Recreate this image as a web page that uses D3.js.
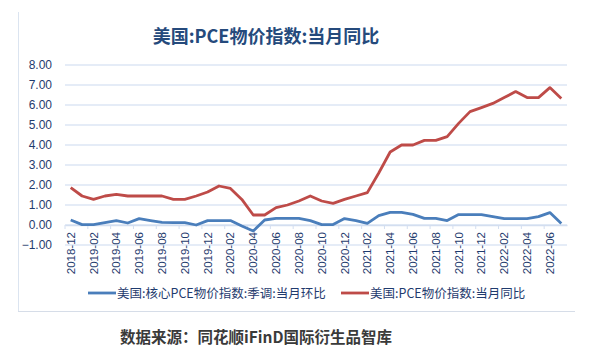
<!DOCTYPE html>
<html><head><meta charset="utf-8">
<script src="https://cdn.jsdelivr.net/npm/d3@7"></script>
<style>body{margin:0;background:#fff}svg{display:block}</style>
</head><body><svg id="c" width="591" height="359"></svg>
<script>
const months = ["2018-12","2019-01","2019-02","2019-03","2019-04","2019-05","2019-06","2019-07","2019-08","2019-09","2019-10","2019-11","2019-12","2020-01","2020-02","2020-03","2020-04","2020-05","2020-06","2020-07","2020-08","2020-09","2020-10","2020-11","2020-12","2021-01","2021-02","2021-03","2021-04","2021-05","2021-06","2021-07","2021-08","2021-09","2021-10","2021-11","2021-12","2022-01","2022-02","2022-03","2022-04","2022-05","2022-06","2022-07"];
const coreMoM = [0.25,0.02,0.02,0.12,0.22,0.1,0.32,0.22,0.13,0.12,0.12,0.0,0.22,0.22,0.22,-0.05,-0.3,0.25,0.33,0.33,0.33,0.22,0.02,0.02,0.32,0.22,0.08,0.47,0.63,0.63,0.53,0.33,0.33,0.22,0.52,0.52,0.52,0.42,0.32,0.32,0.32,0.42,0.62,0.08];
const pceYoY = [1.87,1.45,1.28,1.45,1.53,1.45,1.45,1.45,1.45,1.28,1.28,1.45,1.65,1.95,1.83,1.28,0.5,0.5,0.87,1.0,1.2,1.45,1.2,1.08,1.28,1.45,1.62,2.6,3.65,4.0,4.0,4.23,4.23,4.42,5.08,5.67,5.87,6.08,6.37,6.67,6.37,6.37,6.87,6.33];
const yTicks = [-1,0,1,2,3,4,5,6,7,8];
const seriesNames = ["美国:核心PCE物价指数:季调:当月环比","美国:PCE物价指数:当月同比"];
const title = "美国:PCE物价指数:当月同比";
const source = "数据来源：同花顺iFinD国际衍生品智库";

const svg = d3.select("#c");
const L=65,R=567,T=65,B=245;
const x = d3.scaleBand().domain(months).range([L,R]);
const y = d3.scaleLinear().domain([-1,8]).range([B,T]);
const cjk = "'Noto Sans CJK SC','Noto Sans',sans-serif";
const lat = "'Liberation Sans',Arial,sans-serif";

// frame
svg.append("line").attr("x1",18.5).attr("x2",18.5).attr("y1",12).attr("y2",311).attr("stroke","#dbe4f0").attr("stroke-width",1);
svg.append("line").attr("x1",18).attr("x2",575).attr("y1",311.5).attr("y2",311.5).attr("stroke","#d6dde8").attr("stroke-width",1);

svg.append("text").attr("x",266).attr("y",43).attr("text-anchor","middle")
  .attr("font-family",cjk).attr("font-weight","bold").attr("font-size",18).attr("fill","#254a7c").text(title);

// grid
svg.append("g").selectAll("line").data(yTicks).join("line")
  .attr("x1",L).attr("x2",R).attr("y1",d=>y(d)).attr("y2",d=>y(d))
  .attr("stroke","#dce6f4").attr("stroke-width",1.3);

// y axis labels
const ya = svg.append("g").attr("transform",`translate(${L},0)`)
  .call(d3.axisLeft(y).tickValues(yTicks).tickFormat(d3.format(".2f")).tickSize(0).tickPadding(13));
ya.select(".domain").remove();
ya.selectAll("text").attr("font-family",lat).attr("font-size",12).attr("fill","#1f3b6e");

// x axis
const xa = svg.append("g").attr("transform",`translate(0,${y(0)})`)
  .call(d3.axisBottom(x).tickValues(months.filter((d,i)=>i%2===0)).tickSize(0).tickPadding(6));
xa.select(".domain").attr("stroke","#d3def0").attr("stroke-width",1.3);
xa.selectAll(".tick line").remove();
xa.selectAll(".tick").append("line").attr("x1",-x.bandwidth()/2).attr("x2",-x.bandwidth()/2).attr("y1",0).attr("y2",4).attr("stroke","#d3def0");
xa.selectAll("text").attr("font-family",lat).attr("font-size",11.5).attr("fill","#1f3b6e")
  .attr("transform","rotate(-90)").attr("text-anchor","end").attr("dy","0.35em").attr("x",-7).attr("y",0);

const line = d3.line().x((d,i)=>x(months[i])+x.bandwidth()/2).y(d=>y(d));
const colors = ["#4a7ebb","#be4b48"];
[coreMoM,pceYoY].forEach((s,k)=>{
  svg.append("path").datum(s).attr("d",line).attr("fill","none")
    .attr("stroke",colors[k]).attr("stroke-width",2.8).attr("stroke-linejoin","round");
});

// legend
const lg = [{x1:88,x2:116,tx:117},{x1:341,x2:369,tx:370}];
lg.forEach((g,k)=>{
  svg.append("line").attr("x1",g.x1).attr("x2",g.x2).attr("y1",293).attr("y2",293).attr("stroke",colors[k]).attr("stroke-width",2.8);
  svg.append("text").attr("x",g.tx).attr("y",297.5).attr("font-family",cjk).attr("font-size",12.5).attr("fill","#1f3b6e").text(seriesNames[k]);
});

svg.append("text").attr("x",256).attr("y",343).attr("text-anchor","middle")
  .attr("font-family",cjk).attr("font-weight","bold").attr("font-size",15.5).attr("fill","#3a3a3a").text(source);
</script></body></html>
